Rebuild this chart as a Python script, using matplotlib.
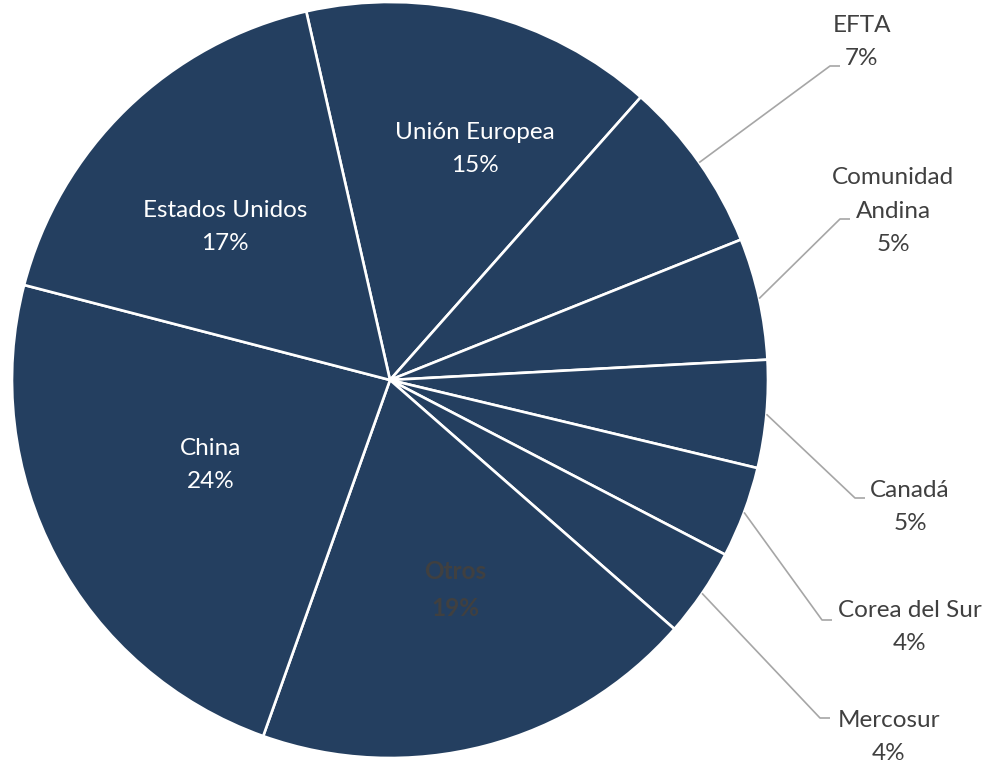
import numpy as np
import matplotlib.pyplot as plt

regions = ['Unión Europea', 'EFTA', 'Comunidad\nAndina', 'Canadá', 'Corea del Sur',
           'Mercosur', 'Otros', 'China', 'Estados Unidos']
shares = [15.1, 7.4, 5.2, 4.6, 3.9, 3.8, 19.0, 23.6, 17.4]

slice_color = '#243F60'
text_dark = '#404040'

W, H = 991, 766
cx, cy, R = 390, 380, 378


def px(x, y):
    # pixel position (from top-left) -> data coords
    return (x - cx) / R, (cy - y) / R


fig = plt.figure(figsize=(W / 100, H / 100), dpi=100)
ax = fig.add_axes([0, 0, 1, 1])
plt.rcParams['font.family'] = ['Lato', 'DejaVu Sans']
fs = 17.5
ls = 1.75

wedges, _ = ax.pie(shares, startangle=102.8, counterclock=False, radius=1,
                   colors=[slice_color] * len(shares),
                   wedgeprops=dict(edgecolor='white', linewidth=1.9))

ax.set_xlim(-cx / R, (W - cx) / R)
ax.set_ylim(-(H - cy) / R, cy / R)
ax.set_aspect('auto')
ax.axis('off')

# labels inside the big slices
inside = {'Unión Europea': (475, 149), 'Estados Unidos': (225, 227),
          'China': (211, 465), 'Otros': (455, 590)}
# outside labels: text centre, elbow of the leader line
outside = {'EFTA': ((862, 42), (830, 66)),
           'Comunidad\nAndina': ((893, 211), (840, 219)),
           'Canadá': ((910, 507), (855, 498)),
           'Corea del Sur': ((910, 627), (822, 620)),
           'Mercosur': ((889, 737), (820, 718))}

for w, name, val in zip(wedges, regions, shares):
    label = name + '\n' + f'{val:.0f}%'
    if name in inside:
        x, y = px(*inside[name])
        if name == 'Otros':
            ax.text(x, y, label, ha='center', va='center', color=text_dark,
                    fontsize=fs, fontweight='bold', linespacing=ls)
        else:
            ax.text(x, y, label, ha='center', va='center', color='white',
                    fontsize=fs, linespacing=ls)
    else:
        mid = np.deg2rad((w.theta1 + w.theta2) / 2)
        sx, sy = np.cos(mid), np.sin(mid)
        tpos, elbow = outside[name]
        ex, ey = px(*elbow)
        ax.plot([sx, ex, ex + 10 / R], [sy, ey, ey], color='#A6A6A6', lw=1.2,
                solid_capstyle='butt')
        x, y = px(*tpos)
        ax.text(x, y, label, ha='center', va='center', color=text_dark,
                fontsize=fs, linespacing=ls)

fig.savefig('out.png', dpi=100)
